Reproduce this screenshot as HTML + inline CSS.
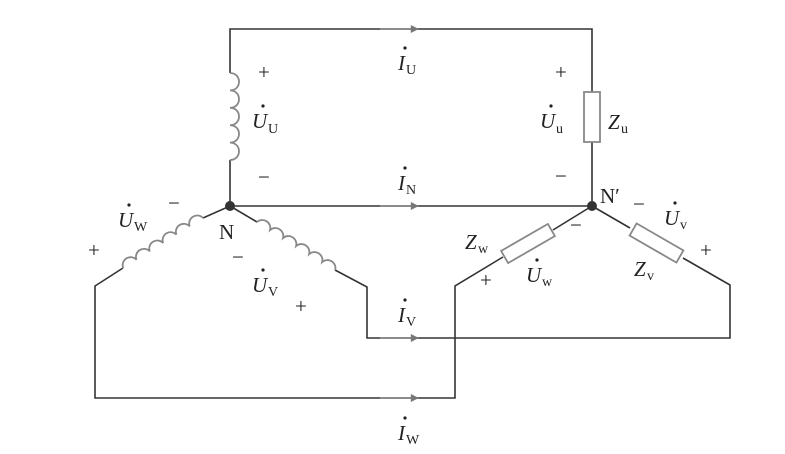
<!DOCTYPE html>
<html><head><meta charset="utf-8"><style>
html,body{margin:0;padding:0;background:#fff;}
svg{display:block;}
text{font-family:"Liberation Serif",serif;fill:#222;}
.it{font-style:italic;}
</style></head><body>
<svg width="785" height="454" viewBox="0 0 785 454" xmlns="http://www.w3.org/2000/svg">
<defs>
<marker id="ar" viewBox="0 0 10 10" refX="9" refY="5" markerWidth="12" markerHeight="8" markerUnits="userSpaceOnUse" orient="auto"><path d="M0,0 L10,5 L0,10 z" fill="#777"/></marker>
</defs>
<g stroke="#333" stroke-width="1.6" fill="none">
<polyline points="230,73 230,29 592,29 592,92"/>
<line x1="230" y1="160" x2="230" y2="206"/>
<line x1="592" y1="142" x2="592" y2="206"/>
<line x1="230" y1="206" x2="592" y2="206"/>
<line x1="230" y1="206" x2="203" y2="218"/>
<polyline points="123,268 95,286 95,398 455,398 455,286 503,257"/>
<line x1="553" y1="230" x2="592" y2="206"/>
<line x1="230" y1="206" x2="257" y2="222"/>
<polyline points="335,270 367,287 367,338 730,338 730,285 683,258"/>
<line x1="630" y1="228" x2="592" y2="206"/>
</g>
<g stroke="#888" stroke-width="1.6">
<line x1="380" y1="29" x2="418" y2="29" marker-end="url(#ar)"/>
<line x1="380" y1="206" x2="418" y2="206" marker-end="url(#ar)"/>
<line x1="380" y1="338" x2="418" y2="338" marker-end="url(#ar)"/>
<line x1="380" y1="398" x2="418" y2="398" marker-end="url(#ar)"/>
</g>
<g stroke="#888" stroke-width="1.8" fill="none">
<path d="M230,73 c12,0 12,17.4 0,17.4 c12,0 12,17.4 0,17.4 c12,0 12,17.4 0,17.4 c12,0 12,17.4 0,17.4 c12,0 12,17.4 0,17.4"/>
<g transform="translate(203,218) rotate(147.9)">
<path d="M0,0 a8,8 0 0 0 15.7,0 a8,8 0 0 0 15.7,0 a8,8 0 0 0 15.7,0 a8,8 0 0 0 15.7,0 a8,8 0 0 0 15.7,0 a8,8 0 0 0 15.7,0"/>
</g>
<g transform="translate(257,222) rotate(31.6)">
<path d="M0,0 a8,8 0 0 1 15.3,0 a8,8 0 0 1 15.3,0 a8,8 0 0 1 15.3,0 a8,8 0 0 1 15.3,0 a8,8 0 0 1 15.3,0 a8,8 0 0 1 15.3,0"/>
</g>
</g>
<g stroke="#888" stroke-width="1.8" fill="#fff">
<rect x="584" y="92" width="16" height="50"/>
<g transform="translate(528,243.5) rotate(-30)"><rect x="-27" y="-7" width="54" height="14"/></g>
<g transform="translate(656.5,243) rotate(30)"><rect x="-27" y="-7" width="54" height="14"/></g>
</g>
<circle cx="230" cy="206" r="5" fill="#333"/>
<circle cx="592" cy="206" r="5" fill="#333"/>
<g fill="#222">
<circle cx="263" cy="106" r="1.6"/>
<circle cx="551" cy="106" r="1.6"/>
<circle cx="405" cy="48" r="1.6"/>
<circle cx="405" cy="168" r="1.6"/>
<circle cx="405" cy="300" r="1.6"/>
<circle cx="405" cy="418" r="1.6"/>
<circle cx="129" cy="205" r="1.6"/>
<circle cx="263" cy="270" r="1.6"/>
<circle cx="675" cy="203" r="1.6"/>
<circle cx="537" cy="260" r="1.6"/>
</g>
<g font-size="21">
<text x="258" y="79">+</text>
<text x="258" y="184">−</text>
<text class="it" x="252" y="128">U</text><text x="268" y="133" font-size="14">U</text>
<text x="555" y="79">+</text>
<text x="555" y="183">−</text>
<text class="it" x="540" y="128">U</text><text x="556" y="133" font-size="14">u</text>
<text class="it" x="608" y="129">Z</text><text x="621" y="133" font-size="14">u</text>
<text class="it" x="398" y="70">I</text><text x="406" y="74" font-size="14">U</text>
<text class="it" x="398" y="190">I</text><text x="406" y="194" font-size="14">N</text>
<text class="it" x="398" y="322">I</text><text x="406" y="326" font-size="14">V</text>
<text class="it" x="398" y="440">I</text><text x="406" y="444" font-size="14">W</text>
<text class="it" x="118" y="227">U</text><text x="134" y="231" font-size="14">W</text>
<text x="168" y="210">−</text>
<text x="88" y="257">+</text>
<text x="219" y="239">N</text>
<text x="232" y="264">−</text>
<text class="it" x="252" y="292">U</text><text x="268" y="296" font-size="14">V</text>
<text x="295" y="313">+</text>
<text x="600" y="203">N′</text>
<text x="633" y="211">−</text>
<text class="it" x="664" y="225">U</text><text x="680" y="229" font-size="14">v</text>
<text x="700" y="257">+</text>
<text class="it" x="634" y="276">Z</text><text x="647" y="280" font-size="14">v</text>
<text x="570" y="232">−</text>
<text class="it" x="465" y="249">Z</text><text x="478" y="253" font-size="14">w</text>
<text x="480" y="287">+</text>
<text class="it" x="526" y="282">U</text><text x="542" y="286" font-size="14">w</text>
</g>
</svg>
</body></html>
